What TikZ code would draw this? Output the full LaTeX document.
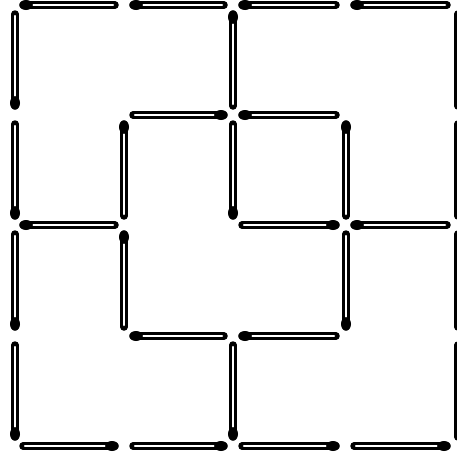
\documentclass[tikz,border=0pt]{standalone}
\usepackage{tikz}

\begin{document}
\begin{tikzpicture}[x=1pt,y=-1pt,
      matchbody/.style={line width=7.5pt,line cap=round,black},
      matchcore/.style={line width=2.5pt,line cap=round,white,shorten <=7pt,shorten >=2pt},
      hhead/.style={fill=black,x radius=6.8pt,y radius=5pt},
      vhead/.style={fill=black,x radius=5pt,y radius=6.8pt}]
      \useasboundingbox (0,0) rectangle (457,455);
      \foreach \hx/\tx/\y in {26/115/5,136/224/5,245/336/5,357/447/5,
          221/133/115,245/336/115,
          26/115/225,333/242/225,357/447/225,
          136/224/336,245/336/336,
          112/23/446,221/133/446,333/242/446,444/354/446}{
        \draw[matchbody] (\hx,\y) -- (\tx,\y);
        \draw[matchcore] (\hx,\y) -- (\tx,\y);
        \fill[hhead] (\hx,\y) ellipse [];
      }
      \foreach \x/\hy/\ty in {15/103/14,15/213/124,15/324/234,15/434/345,
          124/127/216,124/237/327,
          233/17/106,233/213/124,233/434/345,
          346/127/216,346/324/234}{
        \draw[matchbody] (\x,\hy) -- (\x,\ty);
        \draw[matchcore] (\x,\hy) -- (\x,\ty);
        \fill[vhead] (\x,\hy) ellipse [];
      }
      \foreach \hy/\ty in {14/106,124/216,234/327,345/437}{
        \draw[matchbody] (458,\hy) -- (458,\ty);
        \draw[matchcore,shorten <=2pt] (458,\hy) -- (458,\ty);
      }
    \end{tikzpicture}
\end{document}
